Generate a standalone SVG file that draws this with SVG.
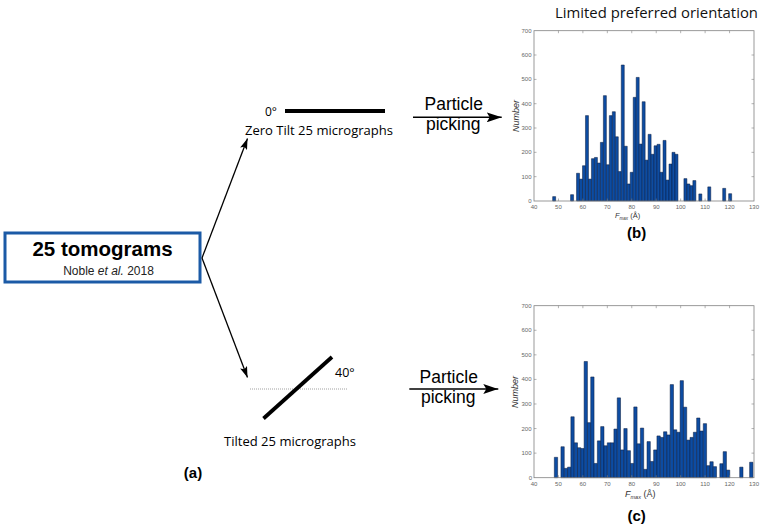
<svg xmlns="http://www.w3.org/2000/svg" width="765" height="528" viewBox="0 0 765 528">
<style>
.sans{font-family:"Liberation Sans",Arial,sans-serif;}
.hum{font-family:"Open Sans","Noto Sans",sans-serif;}
.bold{font-weight:bold;}
.tick{font-family:"Liberation Sans",Arial,sans-serif;font-size:6px;fill:#666;}
.axis{fill:none;stroke:#808080;stroke-width:0.8;}
.tk{fill:none;stroke:#808080;stroke-width:0.6;}
.bar{fill:#0d4ca2;stroke:#0a1a3c;stroke-width:0.5;}
.conn{fill:none;stroke:#000;}
</style>
<defs>
<marker id="big" viewBox="0 0 15 10" refX="15" refY="5" markerWidth="15" markerHeight="10" markerUnits="userSpaceOnUse" orient="auto">
<path d="M0,0 L15,5 L0,10 L3,5 Z" fill="#000"/>
</marker>
<marker id="small" viewBox="0 0 12 8" refX="12" refY="4" markerWidth="11" markerHeight="7.5" markerUnits="userSpaceOnUse" orient="auto">
<path d="M0,0 L12,4 L0,8 L2.5,4 Z" fill="#000"/>
</marker>
</defs>
<rect width="765" height="528" fill="#fff"/>

<g id="tomograms">
<rect x="5" y="233" width="195" height="49" fill="#fff" stroke="#1b5aa6" stroke-width="3"/>
<text class="sans bold" x="102.5" y="256" font-size="20.5" text-anchor="middle">25 tomograms</text>
<text class="sans" x="108.5" y="274.5" font-size="12" text-anchor="middle" fill="#222">Noble <tspan font-style="italic">et al.</tspan> 2018</text>
</g>

<g id="zero-tilt">
<text class="hum" x="265" y="115.5" font-size="12">0°</text>
<line x1="285" y1="111" x2="385" y2="111" stroke="#000" stroke-width="3.8"/>
<text class="hum" x="245" y="134.5" font-size="13.5" textLength="148" lengthAdjust="spacingAndGlyphs">Zero Tilt 25 micrographs</text>
</g>

<g id="tilted">
<line x1="250" y1="389" x2="348" y2="389" stroke="#888" stroke-width="0.8" stroke-dasharray="1,1"/>
<line x1="263.5" y1="418.5" x2="332" y2="357" stroke="#000" stroke-width="3.8"/>
<text class="hum" x="335" y="377" font-size="12.5">40°</text>
<text class="hum" x="224" y="446" font-size="13.5" textLength="132" lengthAdjust="spacingAndGlyphs">Tilted 25 micrographs</text>
</g>

<g id="picking-top">
<text class="sans" x="453.7" y="110" font-size="17.5" text-anchor="middle">Particle</text>
<text class="sans" x="453.2" y="129.5" font-size="17.5" text-anchor="middle">picking</text>
</g>
<g id="picking-bottom">
<text class="sans" x="448.7" y="382.7" font-size="17.5" text-anchor="middle">Particle</text>
<text class="sans" x="448.2" y="403" font-size="17.5" text-anchor="middle">picking</text>
</g>

<g id="connectors">
<line class="conn" x1="202" y1="258" x2="247.5" y2="138.5" stroke-width="1.3" marker-end="url(#small)"/>
<line class="conn" x1="202" y1="258" x2="247.5" y2="377.5" stroke-width="1.3" marker-end="url(#small)"/>
<line class="conn" x1="413" y1="117.3" x2="501.7" y2="117.3" stroke-width="1.5" marker-end="url(#big)"/>
<line class="conn" x1="409.3" y1="389" x2="498.3" y2="389" stroke-width="1.5" marker-end="url(#big)"/>
</g>

<g id="title">
<text class="hum" x="555" y="17.5" font-size="15" textLength="203" lengthAdjust="spacingAndGlyphs" fill="#111">Limited preferred orientation</text>
</g>

<g id="histogram-b">
<g transform="translate(552.67,201) scale(2.983,-0.2433)">
<g class="bar">
<rect x="0" y="0" width="1" height="18" vector-effect="non-scaling-stroke"/>
<rect x="6" y="0" width="1" height="26" vector-effect="non-scaling-stroke"/>
<rect x="8" y="0" width="1" height="114" vector-effect="non-scaling-stroke"/>
<rect x="9" y="0" width="1" height="90" vector-effect="non-scaling-stroke"/>
<rect x="10" y="0" width="1" height="145" vector-effect="non-scaling-stroke"/>
<rect x="11" y="0" width="1" height="351" vector-effect="non-scaling-stroke"/>
<rect x="12" y="0" width="1" height="90" vector-effect="non-scaling-stroke"/>
<rect x="13" y="0" width="1" height="174" vector-effect="non-scaling-stroke"/>
<rect x="14" y="0" width="1" height="179" vector-effect="non-scaling-stroke"/>
<rect x="15" y="0" width="1" height="156" vector-effect="non-scaling-stroke"/>
<rect x="16" y="0" width="1" height="241" vector-effect="non-scaling-stroke"/>
<rect x="17" y="0" width="1" height="433" vector-effect="non-scaling-stroke"/>
<rect x="18" y="0" width="1" height="149" vector-effect="non-scaling-stroke"/>
<rect x="19" y="0" width="1" height="351" vector-effect="non-scaling-stroke"/>
<rect x="20" y="0" width="1" height="367" vector-effect="non-scaling-stroke"/>
<rect x="21" y="0" width="1" height="264" vector-effect="non-scaling-stroke"/>
<rect x="22" y="0" width="1" height="121" vector-effect="non-scaling-stroke"/>
<rect x="23" y="0" width="1" height="559" vector-effect="non-scaling-stroke"/>
<rect x="24" y="0" width="1" height="225" vector-effect="non-scaling-stroke"/>
<rect x="25" y="0" width="1" height="70" vector-effect="non-scaling-stroke"/>
<rect x="26" y="0" width="1" height="118" vector-effect="non-scaling-stroke"/>
<rect x="27" y="0" width="1" height="426" vector-effect="non-scaling-stroke"/>
<rect x="28" y="0" width="1" height="508" vector-effect="non-scaling-stroke"/>
<rect x="29" y="0" width="1" height="234" vector-effect="non-scaling-stroke"/>
<rect x="30" y="0" width="1" height="408" vector-effect="non-scaling-stroke"/>
<rect x="31" y="0" width="1" height="168" vector-effect="non-scaling-stroke"/>
<rect x="32" y="0" width="1" height="274" vector-effect="non-scaling-stroke"/>
<rect x="33" y="0" width="1" height="192" vector-effect="non-scaling-stroke"/>
<rect x="34" y="0" width="1" height="227" vector-effect="non-scaling-stroke"/>
<rect x="35" y="0" width="1" height="233" vector-effect="non-scaling-stroke"/>
<rect x="36" y="0" width="1" height="118" vector-effect="non-scaling-stroke"/>
<rect x="37" y="0" width="1" height="249" vector-effect="non-scaling-stroke"/>
<rect x="38" y="0" width="1" height="86" vector-effect="non-scaling-stroke"/>
<rect x="39" y="0" width="1" height="152" vector-effect="non-scaling-stroke"/>
<rect x="40" y="0" width="1" height="200" vector-effect="non-scaling-stroke"/>
<rect x="41" y="0" width="1" height="192" vector-effect="non-scaling-stroke"/>
<rect x="44" y="0" width="1" height="92" vector-effect="non-scaling-stroke"/>
<rect x="45" y="0" width="1" height="70" vector-effect="non-scaling-stroke"/>
<rect x="46" y="0" width="1" height="63" vector-effect="non-scaling-stroke"/>
<rect x="47" y="0" width="1" height="84" vector-effect="non-scaling-stroke"/>
<rect x="49" y="0" width="1" height="29" vector-effect="non-scaling-stroke"/>
<rect x="52" y="0" width="1" height="58" vector-effect="non-scaling-stroke"/>
<rect x="57" y="0" width="1" height="52" vector-effect="non-scaling-stroke"/>
<rect x="59" y="0" width="1" height="30" vector-effect="non-scaling-stroke"/>
</g>
</g>
<rect class="axis" x="534" y="30.7" width="220" height="170.3"/>
<path class="tk" d="M558.44,201v-2.5M582.89,201v-2.5M607.33,201v-2.5M631.78,201v-2.5M656.22,201v-2.5M680.67,201v-2.5M705.11,201v-2.5M729.56,201v-2.5
M558.44,30.7v2.5M582.89,30.7v2.5M607.33,30.7v2.5M631.78,30.7v2.5M656.22,30.7v2.5M680.67,30.7v2.5M705.11,30.7v2.5M729.56,30.7v2.5
M534,176.67h2.5M534,152.34h2.5M534,128h2.5M534,103.7h2.5M534,79.4h2.5M534,55h2.5
M754,176.67h-2.5M754,152.34h-2.5M754,128h-2.5M754,103.7h-2.5M754,79.4h-2.5M754,55h-2.5"/>
<g class="tick" text-anchor="end" font-size="5.5">
<text x="531.5" y="203">0</text>
<text x="531.5" y="178.7">100</text>
<text x="531.5" y="154.3">200</text>
<text x="531.5" y="130">300</text>
<text x="531.5" y="105.7">400</text>
<text x="531.5" y="81.4">500</text>
<text x="531.5" y="57">600</text>
<text x="531.5" y="32.7">700</text>
</g>
<g class="tick" text-anchor="middle" font-size="6.5">
<text x="534" y="208.5">40</text>
<text x="558.44" y="208.5">50</text>
<text x="582.89" y="208.5">60</text>
<text x="607.33" y="208.5">70</text>
<text x="631.78" y="208.5">80</text>
<text x="656.22" y="208.5">90</text>
<text x="680.67" y="208.5">100</text>
<text x="705.11" y="208.5">110</text>
<text x="729.56" y="208.5">120</text>
<text x="754" y="208.5">130</text>
</g>
<text class="sans" transform="translate(518.5,116) rotate(-90)" font-size="9" font-style="italic" text-anchor="middle" fill="#333">Number</text>
<text class="sans" x="615" y="218" font-size="7.5" fill="#333"><tspan font-style="italic">F</tspan><tspan font-size="4.5" dy="1.5" font-style="italic">max</tspan><tspan dy="-1.5"> (Å)</tspan></text>
<text class="sans bold" x="636.7" y="237.5" font-size="15" text-anchor="middle">(b)</text>
</g>

<g id="histogram-c">
<g transform="translate(554.33,477.7) scale(3.31,-0.2457)">
<g class="bar">
<rect x="0" y="0" width="1" height="83" vector-effect="non-scaling-stroke"/>
<rect x="2" y="0" width="1" height="126" vector-effect="non-scaling-stroke"/>
<rect x="3" y="0" width="1" height="38" vector-effect="non-scaling-stroke"/>
<rect x="4" y="0" width="1" height="43" vector-effect="non-scaling-stroke"/>
<rect x="5" y="0" width="1" height="248" vector-effect="non-scaling-stroke"/>
<rect x="6" y="0" width="1" height="142" vector-effect="non-scaling-stroke"/>
<rect x="7" y="0" width="1" height="122" vector-effect="non-scaling-stroke"/>
<rect x="8" y="0" width="1" height="119" vector-effect="non-scaling-stroke"/>
<rect x="9" y="0" width="1" height="473" vector-effect="non-scaling-stroke"/>
<rect x="10" y="0" width="1" height="224" vector-effect="non-scaling-stroke"/>
<rect x="11" y="0" width="1" height="410" vector-effect="non-scaling-stroke"/>
<rect x="12" y="0" width="1" height="58" vector-effect="non-scaling-stroke"/>
<rect x="13" y="0" width="1" height="150" vector-effect="non-scaling-stroke"/>
<rect x="14" y="0" width="1" height="208" vector-effect="non-scaling-stroke"/>
<rect x="15" y="0" width="1" height="130" vector-effect="non-scaling-stroke"/>
<rect x="16" y="0" width="1" height="142" vector-effect="non-scaling-stroke"/>
<rect x="17" y="0" width="1" height="142" vector-effect="non-scaling-stroke"/>
<rect x="18" y="0" width="1" height="198" vector-effect="non-scaling-stroke"/>
<rect x="19" y="0" width="1" height="325" vector-effect="non-scaling-stroke"/>
<rect x="20" y="0" width="1" height="113" vector-effect="non-scaling-stroke"/>
<rect x="21" y="0" width="1" height="200" vector-effect="non-scaling-stroke"/>
<rect x="22" y="0" width="1" height="110" vector-effect="non-scaling-stroke"/>
<rect x="23" y="0" width="1" height="58" vector-effect="non-scaling-stroke"/>
<rect x="24" y="0" width="1" height="288" vector-effect="non-scaling-stroke"/>
<rect x="25" y="0" width="1" height="138" vector-effect="non-scaling-stroke"/>
<rect x="26" y="0" width="1" height="202" vector-effect="non-scaling-stroke"/>
<rect x="27" y="0" width="1" height="34" vector-effect="non-scaling-stroke"/>
<rect x="28" y="0" width="1" height="147" vector-effect="non-scaling-stroke"/>
<rect x="29" y="0" width="1" height="66" vector-effect="non-scaling-stroke"/>
<rect x="30" y="0" width="1" height="113" vector-effect="non-scaling-stroke"/>
<rect x="31" y="0" width="1" height="170" vector-effect="non-scaling-stroke"/>
<rect x="32" y="0" width="1" height="164" vector-effect="non-scaling-stroke"/>
<rect x="33" y="0" width="1" height="187" vector-effect="non-scaling-stroke"/>
<rect x="34" y="0" width="1" height="174" vector-effect="non-scaling-stroke"/>
<rect x="35" y="0" width="1" height="379" vector-effect="non-scaling-stroke"/>
<rect x="36" y="0" width="1" height="195" vector-effect="non-scaling-stroke"/>
<rect x="37" y="0" width="1" height="185" vector-effect="non-scaling-stroke"/>
<rect x="38" y="0" width="1" height="395" vector-effect="non-scaling-stroke"/>
<rect x="39" y="0" width="1" height="287" vector-effect="non-scaling-stroke"/>
<rect x="40" y="0" width="1" height="153" vector-effect="non-scaling-stroke"/>
<rect x="41" y="0" width="1" height="164" vector-effect="non-scaling-stroke"/>
<rect x="42" y="0" width="1" height="185" vector-effect="non-scaling-stroke"/>
<rect x="43" y="0" width="1" height="243" vector-effect="non-scaling-stroke"/>
<rect x="44" y="0" width="1" height="190" vector-effect="non-scaling-stroke"/>
<rect x="45" y="0" width="1" height="220" vector-effect="non-scaling-stroke"/>
<rect x="46" y="0" width="1" height="49" vector-effect="non-scaling-stroke"/>
<rect x="47" y="0" width="1" height="65" vector-effect="non-scaling-stroke"/>
<rect x="48" y="0" width="1" height="45" vector-effect="non-scaling-stroke"/>
<rect x="50" y="0" width="1" height="57" vector-effect="non-scaling-stroke"/>
<rect x="51" y="0" width="1" height="106" vector-effect="non-scaling-stroke"/>
<rect x="52" y="0" width="1" height="31" vector-effect="non-scaling-stroke"/>
<rect x="56" y="0" width="1" height="43" vector-effect="non-scaling-stroke"/>
<rect x="59" y="0" width="1" height="63" vector-effect="non-scaling-stroke"/>
</g>
</g>
<rect class="axis" x="534" y="305.7" width="220" height="172"/>
<path class="tk" d="M558.44,477.7v-2.5M582.89,477.7v-2.5M607.33,477.7v-2.5M631.78,477.7v-2.5M656.22,477.7v-2.5M680.67,477.7v-2.5M705.11,477.7v-2.5M729.56,477.7v-2.5
M558.44,305.7v2.5M582.89,305.7v2.5M607.33,305.7v2.5M631.78,305.7v2.5M656.22,305.7v2.5M680.67,305.7v2.5M705.11,305.7v2.5M729.56,305.7v2.5
M534,453.13h2.5M534,428.56h2.5M534,403.99h2.5M534,379.42h2.5M534,354.85h2.5M534,330.28h2.5
M754,453.13h-2.5M754,428.56h-2.5M754,403.99h-2.5M754,379.42h-2.5M754,354.85h-2.5M754,330.28h-2.5"/>
<g class="tick" text-anchor="end" font-size="6">
<text x="532" y="479.5">0</text>
<text x="531.5" y="455.2">100</text>
<text x="531.5" y="430.6">200</text>
<text x="531.5" y="406">300</text>
<text x="531.5" y="381.4">400</text>
<text x="531.5" y="356.9">500</text>
<text x="531.5" y="332.3">600</text>
<text x="531.5" y="307.7">700</text>
</g>
<g class="tick" text-anchor="middle" font-size="7">
<text x="534" y="485.5">40</text>
<text x="558.44" y="485.5">50</text>
<text x="582.89" y="485.5">60</text>
<text x="607.33" y="485.5">70</text>
<text x="631.78" y="485.5">80</text>
<text x="656.22" y="485.5">90</text>
<text x="680.67" y="485.5">100</text>
<text x="705.11" y="485.5">110</text>
<text x="729.56" y="485.5">120</text>
<text x="754" y="485.5">130</text>
</g>
<text class="sans" transform="translate(518,392) rotate(-90)" font-size="9" font-style="italic" text-anchor="middle" fill="#333">Number</text>
<text class="sans" x="625" y="497" font-size="9" fill="#333"><tspan font-style="italic">F</tspan><tspan font-size="5.5" dy="2" font-style="italic">max</tspan><tspan dy="-2"> (Å)</tspan></text>
<text class="sans bold" x="636.7" y="520.5" font-size="15" text-anchor="middle">(c)</text>
</g>

<g id="label-a">
<text class="sans bold" x="193" y="477.5" font-size="15" text-anchor="middle">(a)</text>
</g>
</svg>
